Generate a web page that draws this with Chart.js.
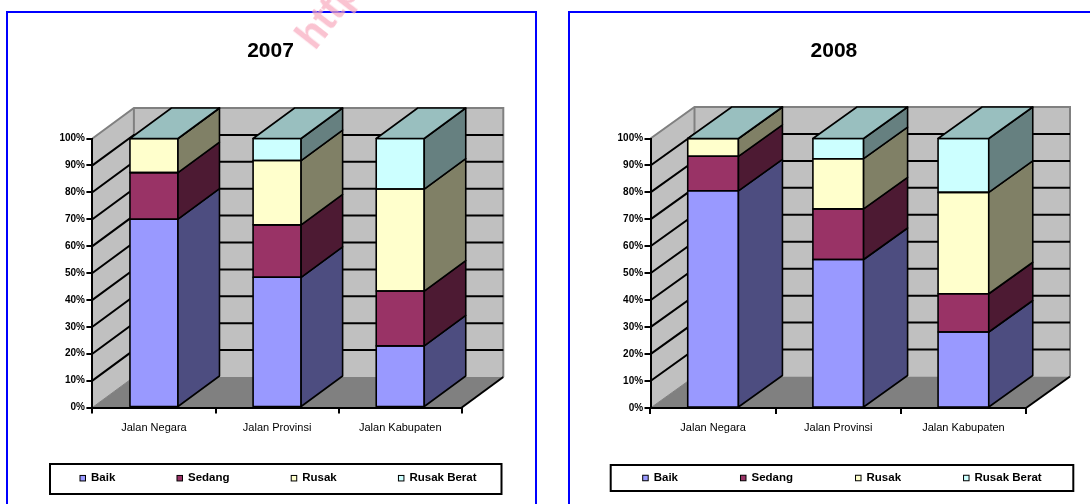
<!DOCTYPE html>
<html>
<head>
<meta charset="utf-8">
<script src="https://cdn.jsdelivr.net/npm/chart.js@4.4.1/dist/chart.umd.min.js"></script>
<style>
  html, body { margin: 0; padding: 0; background: #ffffff; }
  body { width: 1090px; height: 504px; overflow: hidden; position: relative; font-family: "Liberation Sans", Arial, sans-serif; }
  .panel { position: absolute; top: 11px; height: 520px; border: 2px solid #0000ff; box-sizing: border-box; }
  #p1 { left: 6px; width: 531px; }
  #p2 { left: 568px; width: 560px; }
  canvas { position: absolute; }
  #c1 { left: 8px; top: 13px; }
  #c2 { left: 570px; top: 13px; }
  .wm { position: absolute; left: 322px; top: 12px; font: bold 40px "Liberation Sans", Arial, sans-serif; color: rgba(248, 170, 190, 0.7);
        transform-origin: 0 100%; transform: rotate(-52deg); white-space: nowrap; z-index: 5; }
</style>
</head>
<body>
<div class="panel" id="p1"></div>
<div class="panel" id="p2"></div>
<canvas id="c1" width="527" height="491"></canvas>
<canvas id="c2" width="520" height="491"></canvas>
<div class="wm">http://</div>
<script>
// ---------------- data ----------------
const categories = ['Jalan Negara', 'Jalan Provinsi', 'Jalan Kabupaten'];
const seriesNames = ['Baik', 'Sedang', 'Rusak', 'Rusak Berat'];
const yTickLabels = ['0%', '10%', '20%', '30%', '40%', '50%', '60%', '70%', '80%', '90%', '100%'];

const baik2007 = [70.0, 48.4, 22.9];
const sedang2007 = [17.3, 19.5, 20.4];
const rusak2007 = [12.7, 23.9, 37.9];
const rusakBerat2007 = [0, 8.2, 18.8];

const baik2008 = [80.6, 55.1, 28.2];
const sedang2008 = [12.8, 18.8, 14.2];
const rusak2008 = [6.6, 18.6, 37.6];
const rusakBerat2008 = [0, 7.5, 20.0];

// ---------------- styles ----------------
const FONT = '"Liberation Sans", Arial, sans-serif';
const frontColors = ['#9999FF', '#993366', '#FFFFCC', '#CCFFFF'];
const sideColors = ['#4D4D80', '#4D1A33', '#808066', '#668080'];
const topColor = '#99BFBF';

function poly(ctx, pts) {
  ctx.beginPath();
  ctx.moveTo(pts[0][0], pts[0][1]);
  for (let i = 1; i < pts.length; i++) ctx.lineTo(pts[i][0], pts[i][1]);
  ctx.closePath();
}

const threeD = {
  id: 'threeD',
  beforeDraw(chart, args, o) {
    const ctx = chart.ctx, a = chart.chartArea, ys = chart.scales.y;
    const dx = o.dx, dy = o.dy;
    const L = a.left, R = a.right, T = ys.getPixelForValue(100), B = ys.getPixelForValue(0);
    ctx.save();
    // walls
    ctx.fillStyle = '#C0C0C0';
    ctx.fillRect(L + dx, T - dy, R - L, B - T);
    poly(ctx, [[L, B], [L, T], [L + dx, T - dy], [L + dx, B - dy]]);
    ctx.fill();
    // floor
    ctx.fillStyle = '#808080';
    poly(ctx, [[L, B], [R, B], [R + dx, B - dy], [L + dx, B - dy]]);
    ctx.fill();
    // wall edges
    ctx.strokeStyle = '#808080';
    ctx.lineWidth = 2;
    ctx.beginPath();
    ctx.moveTo(L, T); ctx.lineTo(L + dx, T - dy); ctx.lineTo(R + dx, T - dy); ctx.lineTo(R + dx, B - dy);
    ctx.stroke();
    ctx.beginPath();
    ctx.moveTo(L + dx, T - dy); ctx.lineTo(L + dx, B - dy);
    ctx.stroke();
    ctx.lineWidth = 1;
    ctx.beginPath();
    ctx.moveTo(L, B); ctx.lineTo(L + dx, B - dy);
    ctx.stroke();
    // gridlines on walls
    ctx.strokeStyle = '#000';
    ctx.lineWidth = 2;
    ys.ticks.forEach(t => {
      if (t.value <= 0 || t.value >= 100) return;
      const y = ys.getPixelForValue(t.value);
      ctx.beginPath();
      ctx.moveTo(L, y); ctx.lineTo(L + dx, y - dy); ctx.lineTo(R + dx, y - dy);
      ctx.stroke();
    });
    // floor right edge
    ctx.beginPath();
    ctx.moveTo(R, B); ctx.lineTo(R + dx, B - dy);
    ctx.stroke();
    ctx.restore();
  },
  afterDatasetsDraw(chart, args, o) {
    const ctx = chart.ctx, dx = o.dx, dy = o.dy;
    const metas = chart.getSortedVisibleDatasetMetas();
    ctx.save();
    ctx.strokeStyle = '#000';
    ctx.lineWidth = 1.6;
    ctx.lineJoin = 'round';
    metas.forEach(m => {
      m.data.forEach(el => {
        const p = el.getProps(['x', 'y', 'base', 'width'], true);
        const l = p.x - p.width / 2, r = p.x + p.width / 2;
        const top = Math.min(p.y, p.base), bot = Math.max(p.y, p.base);
        // front outline
        ctx.strokeRect(l, top, r - l, bot - top);
        // side face
        ctx.fillStyle = sideColors[m.index];
        poly(ctx, [[r, bot], [r, top], [r + dx, top - dy], [r + dx, bot - dy]]);
        ctx.fill();
        ctx.stroke();
      });
    });
    const last = metas[metas.length - 1];
    last.data.forEach(el => {
      const p = el.getProps(['x', 'y', 'base', 'width'], true);
      const l = p.x - p.width / 2, r = p.x + p.width / 2;
      const top = Math.min(p.y, p.base);
      ctx.fillStyle = topColor;
      poly(ctx, [[l, top], [l + dx, top - dy], [r + dx, top - dy], [r, top]]);
      ctx.fill();
      ctx.stroke();
    });
    ctx.restore();
  },
  afterDraw(chart, args, o) {
    const ctx = chart.ctx, g = o.legend;
    ctx.save();
    ctx.strokeStyle = '#000';
    ctx.lineWidth = 2;
    ctx.strokeRect(g.x0, g.y0, g.x1 - g.x0, g.y1 - g.y0);
    ctx.font = 'bold 11.5px ' + FONT;
    ctx.textBaseline = 'middle';
    ctx.textAlign = 'left';
    let x = g.x0 + g.inset;
    chart.data.datasets.forEach(ds => {
      ctx.fillStyle = ds.backgroundColor;
      ctx.fillRect(x, g.cy - 2.75, 5.5, 5.5);
      ctx.lineWidth = 1;
      ctx.strokeStyle = '#000';
      ctx.strokeRect(x, g.cy - 2.75, 5.5, 5.5);
      ctx.fillStyle = '#000';
      ctx.fillText(ds.label, x + g.textGap, g.cy);
      x += g.textGap + ctx.measureText(ds.label).width + g.gap;
    });
    ctx.restore();
  }
};

function makeChart(id, year, sets, g) {
  return new Chart(document.getElementById(id), {
    type: 'bar',
    data: {
      labels: categories,
      datasets: sets.map((vals, i) => ({
        label: seriesNames[i],
        data: vals,
        backgroundColor: frontColors[i],
        borderWidth: 0,
        barPercentage: g.barPct,
        categoryPercentage: 1
      }))
    },
    options: {
      responsive: false,
      animation: false,
      events: [],
      layout: { padding: { left: g.padL, right: g.padR, top: 0, bottom: g.padB } },
      plugins: {
        legend: { display: false },
        tooltip: { enabled: false },
        title: {
          display: true, text: year, color: '#000',
          font: { family: FONT, size: 21, weight: 'bold', lineHeight: 1.2 },
          padding: { top: g.titleTop, bottom: g.titleBottom }
        },
        threeD: { dx: g.dx, dy: g.dy, legend: g.legend }
      },
      scales: {
        x: {
          stacked: true,
          grid: { offset: true, drawOnChartArea: false, drawTicks: true, tickLength: 6, color: '#000', lineWidth: 2 },
          border: { display: true, color: '#000', width: 2 },
          ticks: { font: { family: FONT, size: 11 }, color: '#000', padding: g.xPad, maxRotation: 0, autoSkip: false },
          afterFit(s) { s.height = 30; }
        },
        y: {
          stacked: true, min: 0, max: 100, position: 'left',
          grid: { drawOnChartArea: false, drawTicks: true, tickLength: 6, color: '#000', lineWidth: 2 },
          border: { display: true, color: '#000', width: 2 },
          ticks: {
            stepSize: 10, color: '#000', padding: 1.4,
            font: { family: FONT, size: 10, weight: 'bold' },
            callback: (v, i) => yTickLabels[i]
          },
          afterFit(s) { s.width = g.yW; }
        },
        yR: {
          type: 'linear', position: 'right', display: true, min: 0, max: 100,
          grid: { display: false, drawTicks: false },
          border: { display: false },
          ticks: { display: false },
          afterFit(s) { s.width = g.wR; }
        }
      }
    },
    plugins: [threeD]
  });
}

makeChart('c1', '2007', [baik2007, sedang2007, rusak2007, rusakBerat2007], {
  padL: 44.4, padR: 46.4, padB: 66.5, yW: 40, wR: 26.8, barPct: 0.39,
  titleTop: 26.1, titleBottom: 74.2, xPad: 8.2, dx: 41.5, dy: 30.5,
  legend: { x0: 42, x1: 493.5, y0: 451, y1: 481, cy: 465.2, inset: 30, gap: 61.7, textGap: 11 }
});

makeChart('c2', '2008', [baik2008, sedang2008, rusak2008, rusakBerat2008], {
  padL: 40.5, padR: 32.7, padB: 66, yW: 40, wR: 31.3, barPct: 0.405,
  titleTop: 26.1, titleBottom: 74.2, xPad: 7.7, dx: 44, dy: 31.5,
  legend: { x0: 40.7, x1: 503.3, y0: 452, y1: 478, cy: 465, inset: 32, gap: 62.5, textGap: 11 }
});
</script>
</body>
</html>
